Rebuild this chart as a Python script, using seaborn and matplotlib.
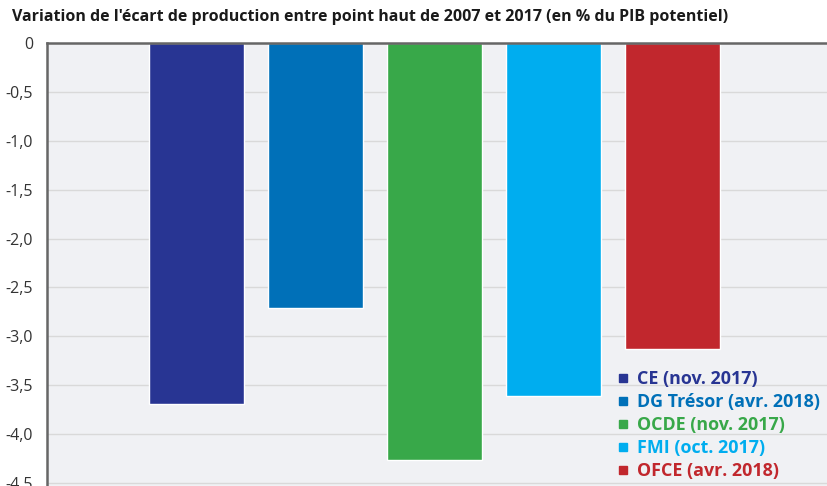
import matplotlib
matplotlib.use("Agg")
import matplotlib.pyplot as plt
import seaborn as sns
import pandas as pd
from matplotlib.lines import Line2D
from matplotlib.ticker import FuncFormatter

categories = ["CE (nov. 2017)", "DG Trésor (avr. 2018)", "OCDE (nov. 2017)",
              "FMI (oct. 2017)", "OFCE (avr. 2018)"]
values = [-3.69, -2.71, -4.26, -3.61, -3.13]
colors = ["#283593", "#0070b8", "#38a849", "#00adef", "#c1272d"]
yticks = [0, -0.5, -1.0, -1.5, -2.0, -2.5, -3.0, -3.5, -4.0, -4.5]
title = "Variation de l'écart de production entre point haut de 2007 et 2017 (en % du PIB potentiel)"

sns.set_style("white")
plt.rcParams['font.family'] = ['Open Sans', 'DejaVu Sans']

df = pd.DataFrame({"cat": categories, "val": values})

fig = plt.figure(figsize=(8.27, 4.86), dpi=100)
ax = fig.add_axes([47/827, 0.0, 1 - 47/827, 1 - 43/486])
ax.set_facecolor("#f0f1f4")

sns.barplot(data=df, x="cat", y="val", hue="cat", palette=colors,
            legend=False, width=0.8, saturation=1, ax=ax, zorder=2)

ax.set_xlim(-1.253, 5.3)
ax.set_ylim(-4.53, 0)
ax.set_yticks(yticks)
ax.yaxis.set_major_formatter(FuncFormatter(
    lambda v, p: "0" if abs(v) < 1e-9 else f"{v:.1f}".replace(".", ",")))
ax.set_xticks([])
ax.set_xlabel("")
ax.set_ylabel("")
ax.tick_params(axis="y", length=0, pad=10, labelsize=11.5, labelcolor="#333333")
ax.yaxis.grid(True, color="#d9d9d9", lw=1)
ax.set_axisbelow(True)

for s in ["right", "bottom"]:
    ax.spines[s].set_visible(False)
for s in ["left", "top"]:
    ax.spines[s].set_color("#666666")
    ax.spines[s].set_linewidth(1.8)
    ax.spines[s].set_zorder(5)

handles = [Line2D([0], [0], marker="s", color="none", markerfacecolor=c,
                  markeredgecolor=c, markersize=6) for c in colors]
leg = ax.legend(handles, categories, loc="upper left",
                bbox_to_anchor=(618/827, 1 - 370/486), bbox_transform=fig.transFigure,
                frameon=False, handlelength=0.6, handletextpad=0.45,
                labelspacing=0.28, borderpad=0, borderaxespad=0,
                prop={"weight": "bold", "size": 12.9})
for t, c in zip(leg.get_texts(), colors):
    t.set_color(c)

fig.text(12/827, 1 - 17/486, title, fontsize=11.5, fontweight="bold",
         color="#1a1a1a", va="center", ha="left")

fig.savefig("out.png", dpi=100)
